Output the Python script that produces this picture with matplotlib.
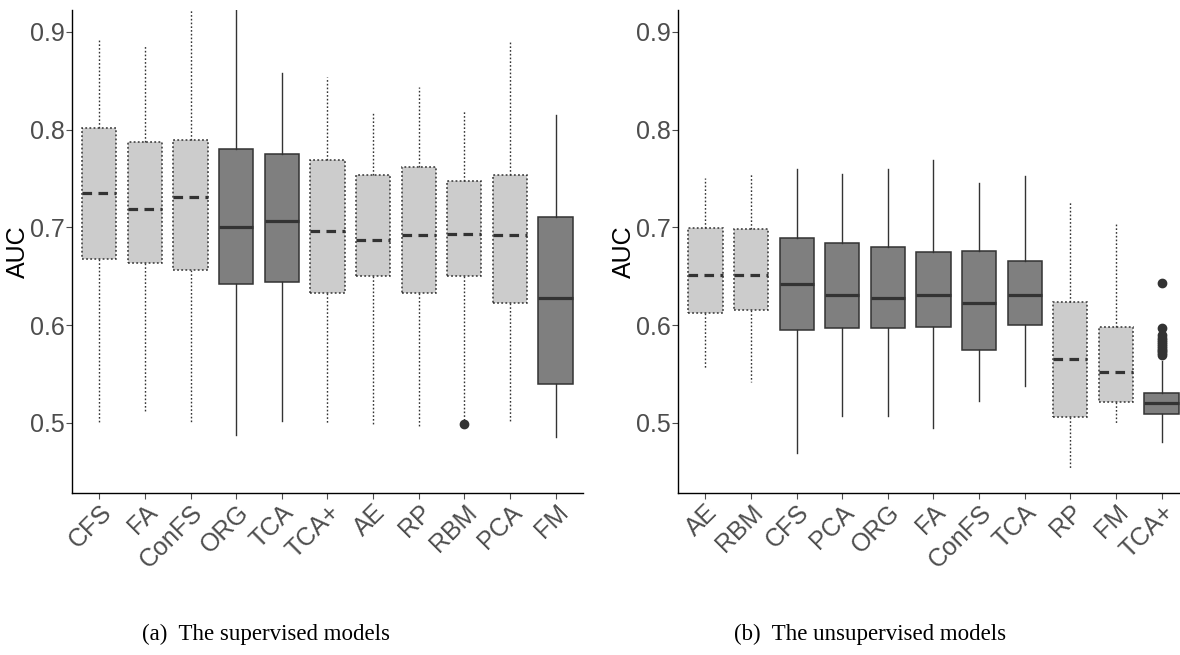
import matplotlib
matplotlib.use("Agg")
import matplotlib.pyplot as plt

# supervised models (panel a)
sup_models = ["CFS", "FA", "ConFS", "ORG", "TCA", "TCA+", "AE", "RP", "RBM", "PCA", "FM"]
sup_kind = ["light", "light", "light", "dark", "dark", "light", "light", "light", "light", "light", "dark"]
sup_lo = [0.500, 0.511, 0.500, 0.488, 0.502, 0.500, 0.497, 0.497, 0.502, 0.500, 0.485]
sup_q1 = [0.668, 0.664, 0.656, 0.642, 0.644, 0.633, 0.650, 0.633, 0.650, 0.623, 0.540]
sup_med = [0.735, 0.719, 0.731, 0.700, 0.706, 0.696, 0.687, 0.692, 0.693, 0.692, 0.628]
sup_q3 = [0.802, 0.787, 0.789, 0.780, 0.775, 0.769, 0.754, 0.762, 0.747, 0.754, 0.711]
sup_hi = [0.892, 0.885, 0.95, 0.95, 0.858, 0.854, 0.817, 0.844, 0.820, 0.890, 0.815]
sup_out = {"RBM": [0.499]}

# unsupervised models (panel b)
uns_models = ["AE", "RBM", "CFS", "PCA", "ORG", "FA", "ConFS", "TCA", "RP", "FM", "TCA+"]
uns_kind = ["light", "light", "dark", "dark", "dark", "dark", "dark", "dark", "light", "light", "dark"]
uns_lo = [0.555, 0.542, 0.469, 0.507, 0.507, 0.495, 0.522, 0.538, 0.454, 0.499, 0.480]
uns_q1 = [0.612, 0.615, 0.595, 0.597, 0.597, 0.598, 0.574, 0.600, 0.506, 0.521, 0.509]
uns_med = [0.651, 0.651, 0.642, 0.631, 0.628, 0.631, 0.623, 0.631, 0.565, 0.552, 0.520]
uns_q3 = [0.699, 0.698, 0.689, 0.684, 0.680, 0.675, 0.676, 0.666, 0.624, 0.598, 0.531]
uns_hi = [0.750, 0.756, 0.760, 0.755, 0.760, 0.769, 0.745, 0.753, 0.727, 0.705, 0.563]
uns_out = {"TCA+": [0.643, 0.597, 0.590, 0.587, 0.585, 0.583, 0.581, 0.579,
                    0.577, 0.575, 0.573, 0.571, 0.569]}

EDGE = "#333333"
TXT = "#4D4D4D"
plt.rcParams["font.family"] = ["Liberation Sans", "DejaVu Sans"]


def draw(ax, models, kind, lo, q1, med, q3, hi, outl):
    for k in ["light", "dark"]:
        stats = []
        pos = []
        for i, m in enumerate(models):
            if kind[i] != k:
                continue
            stats.append(dict(whislo=lo[i], q1=q1[i], med=med[i], q3=q3[i],
                              whishi=hi[i], fliers=outl.get(m, [])))
            pos.append(i + 1)
        if k == "light":
            ls, fill, mls = (0, (1.2, 1.5)), "#CCCCCC", (0, (3, 2))
        else:
            ls, fill, mls = "-", "#7F7F7F", "-"
        ax.bxp(stats, positions=pos, widths=0.75, patch_artist=True, showcaps=False,
               boxprops=dict(facecolor=fill, edgecolor=EDGE, linestyle=ls, linewidth=1.1),
               whiskerprops=dict(color=EDGE, linestyle=ls, linewidth=1.0),
               medianprops=dict(color=EDGE, linestyle=mls, linewidth=2.3),
               flierprops=dict(marker="o", markerfacecolor=EDGE, markeredgecolor=EDGE,
                               markersize=6, linestyle="none"))
    ax.set_xlim(0.4, len(models) + 0.6)
    ax.set_ylim(0.428, 0.9225)
    ax.set_yticks([0.5, 0.6, 0.7, 0.8, 0.9])
    ax.set_yticklabels(["0.5", "0.6", "0.7", "0.8", "0.9"])
    ax.set_xticks(range(1, len(models) + 1))
    ax.set_xticklabels(models, rotation=45, ha="right", rotation_mode="anchor")
    ax.tick_params(colors=TXT, labelsize=18, length=4, width=0.8, labelcolor=TXT, pad=1)
    ax.set_ylabel("AUC", fontsize=18, color="black", labelpad=0)
    for s in ["top", "right"]:
        ax.spines[s].set_visible(False)
    for s in ["left", "bottom"]:
        ax.spines[s].set_color("black")
        ax.spines[s].set_linewidth(1.0)


fig = plt.figure(figsize=(11.8, 6.55), dpi=100)
ax1 = fig.add_axes([0.061, 0.247, 0.433, 0.738])
ax2 = fig.add_axes([0.5746, 0.247, 0.433, 0.738])

draw(ax1, sup_models, sup_kind, sup_lo, sup_q1, sup_med, sup_q3, sup_hi, sup_out)
draw(ax2, uns_models, uns_kind, uns_lo, uns_q1, uns_med, uns_q3, uns_hi, uns_out)

fig.text(0.225, 0.023, "(a)  The supervised models", family="Liberation Serif",
         fontsize=16.5, ha="center", va="baseline")
fig.text(0.737, 0.023, "(b)  The unsupervised models", family="Liberation Serif",
         fontsize=16.5, ha="center", va="baseline")

fig.savefig("out.png", dpi=100)
